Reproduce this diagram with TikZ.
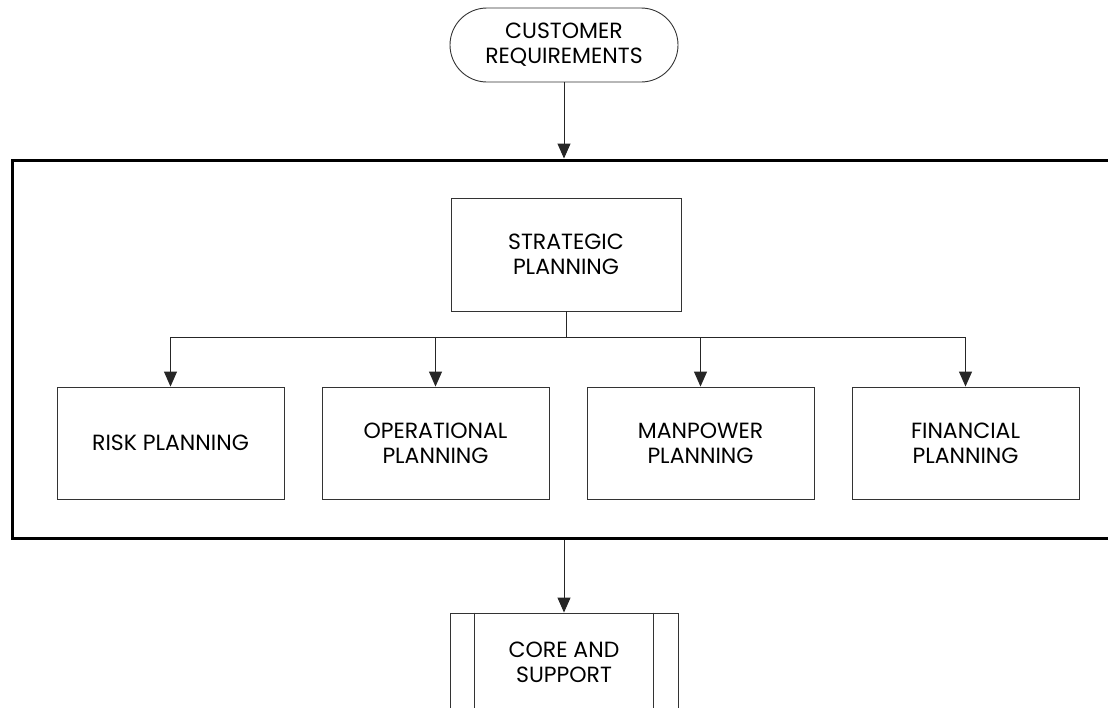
\documentclass[tikz,border=0pt]{standalone}
\usepackage{fontspec}
\setmainfont{Poppins}
\usetikzlibrary{arrows.meta,shapes.misc}

\tikzset{
  box/.style={draw=black!80, line width=0.9pt, fill=white, align=center,
              font=\fontsize{22}{25}\selectfont, inner sep=0pt},
  plan/.style={box, minimum width=227pt, minimum height=112pt},
  term/.style={box, rounded rectangle, minimum width=228pt, minimum height=74pt},
  frame/.style={draw=black, line width=3pt, inner sep=0pt},
  link/.style={draw=black!85, line width=1pt},
  arr/.style={link, -{Triangle[length=15pt, width=13pt]}}
}

\begin{document}
\begin{tikzpicture}[x=1pt, y=-1pt]
  \useasboundingbox (0,0) rectangle (1108,707);

  % outer planning frame (runs past the right edge)
  \node[frame, minimum width=1110pt, minimum height=378pt] (frame) at (567,349) {};

  % start terminal
  \node[term] (cust) at (564,45) {CUSTOMER\\REQUIREMENTS};

  % planning blocks
  \node[plan, minimum width=230pt, minimum height=113pt] (strat) at (566,254.5) {STRATEGIC\\PLANNING};
  \node[plan] (risk) at (170.5,443) {RISK PLANNING};
  \node[plan] (oper) at (435.5,443) {OPERATIONAL\\PLANNING};
  \node[plan] (man)  at (700.5,443) {MANPOWER\\PLANNING};
  \node[plan] (fin)  at (965.5,443) {FINANCIAL\\PLANNING};

  % predefined process (runs past the bottom edge)
  \node[box, minimum width=228pt, minimum height=98pt] (core) at (564,662) {CORE AND\\SUPPORT};
  \draw[draw=black!80, line width=0.9pt]
    ([xshift=25pt]core.north west) -- ([xshift=25pt]core.south west)
    ([xshift=-25pt]core.north east) -- ([xshift=-25pt]core.south east);

  % connectors
  \draw[arr] (cust.south) -- (cust.south |- frame.north);
  \coordinate (bus) at (566,337);
  \draw[link] (strat.south) -- (bus);
  \draw[arr] (bus) -| (risk.north);
  \draw[arr] (bus) -| (oper.north);
  \draw[arr] (bus) -| (man.north);
  \draw[arr] (bus) -| (fin.north);
  \draw[arr] (core.north |- frame.south) -- (core.north);
\end{tikzpicture}
\end{document}
